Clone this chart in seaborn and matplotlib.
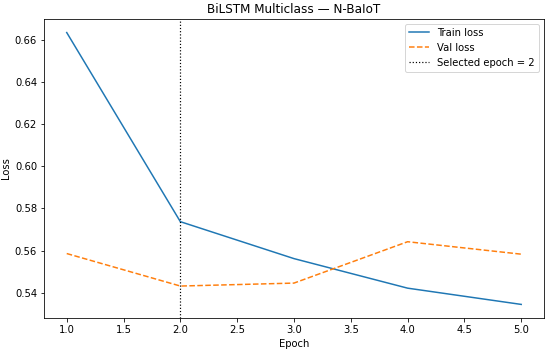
import matplotlib
matplotlib.use("Agg")
import matplotlib.pyplot as plt
import seaborn as sns
import pandas as pd

epochs = [1, 2, 3, 4, 5]
train_loss = [0.6633, 0.5737, 0.5562, 0.5422, 0.5345]
val_loss = [0.5586, 0.5432, 0.5446, 0.5642, 0.5583]
selected_epoch = 2

df = pd.DataFrame({"Epoch": epochs, "Train loss": train_loss, "Val loss": val_loss})

fig, ax = plt.subplots(figsize=(550 / 72, 351 / 72), dpi=72)
sns.lineplot(data=df, x="Epoch", y="Train loss", ax=ax, label="Train loss", color="#1f77b4", linewidth=1.5)
sns.lineplot(data=df, x="Epoch", y="Val loss", ax=ax, label="Val loss", color="#ff7f0e", linestyle="--", linewidth=1.5)
ax.axvline(selected_epoch, color="black", linestyle=":", linewidth=1.2, label=f"Selected epoch = {selected_epoch}")
ax.set_title("BiLSTM Multiclass — N-BaIoT")
ax.set_xlabel("Epoch")
ax.set_ylabel("Loss")
ax.legend(loc="upper right")
fig.subplots_adjust(left=0.08, right=0.989, top=0.946, bottom=0.094)
fig.savefig("out.png", dpi=72)
